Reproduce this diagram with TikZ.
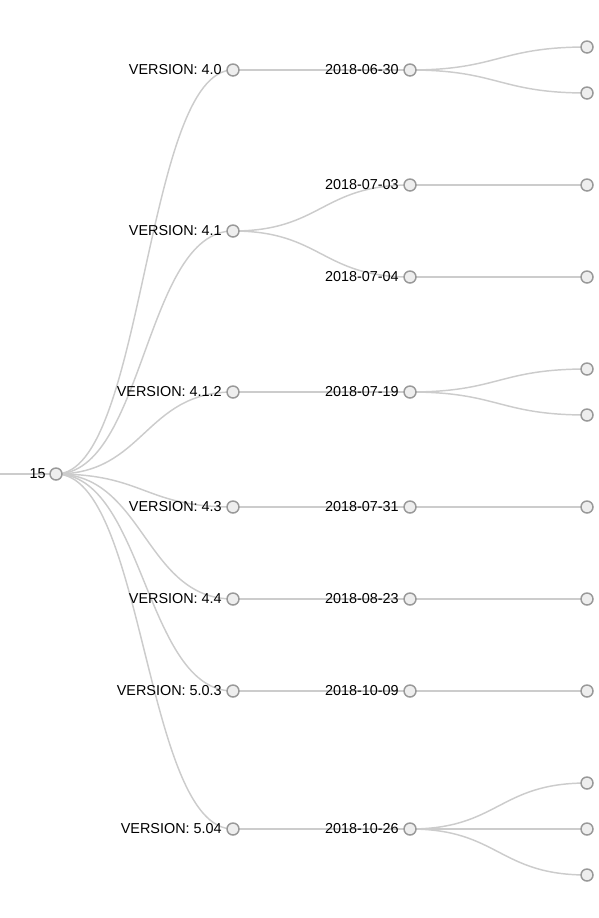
\documentclass[tikz,border=0pt]{standalone}
\usepackage{fontspec}
\setmainfont{Liberation Sans}
\usetikzlibrary{backgrounds}
\definecolor{linkc}{HTML}{CCCCCC}
\definecolor{nodefill}{HTML}{EEEEEE}
\definecolor{nodedraw}{HTML}{999999}
\tikzset{
  dot/.style={circle,draw=nodedraw,fill=nodefill,line width=1.1pt,minimum size=9pt,inner sep=0pt},
  lbl/.style={anchor=east,inner sep=0pt,font=\fontsize{10.8}{12}\selectfont,text=black},
  link/.style={draw=linkc,line width=1.1pt},
}
\begin{document}
\begin{tikzpicture}[x=0.75pt,y=-0.75pt]
\useasboundingbox (0,0) rectangle (599,918);
% root
\node[dot] (r) at (56,474) {};
\coordinate (p) at (0,474);
% versions
\node[dot] (v1) at (233,70) {};
\node[dot] (v2) at (233,231) {};
\node[dot] (v3) at (233,392) {};
\node[dot] (v4) at (233,507) {};
\node[dot] (v5) at (233,599) {};
\node[dot] (v6) at (233,691) {};
\node[dot] (v7) at (233,829) {};
% dates
\node[dot] (d1) at (410,70) {};
\node[dot] (d2) at (410,185) {};
\node[dot] (d3) at (410,277) {};
\node[dot] (d4) at (410,392) {};
\node[dot] (d5) at (410,507) {};
\node[dot] (d6) at (410,599) {};
\node[dot] (d7) at (410,691) {};
\node[dot] (d8) at (410,829) {};
% leaves
\node[dot] (l1) at (587,47) {};
\node[dot] (l2) at (587,93) {};
\node[dot] (l3) at (587,185) {};
\node[dot] (l4) at (587,277) {};
\node[dot] (l5) at (587,369) {};
\node[dot] (l6) at (587,415) {};
\node[dot] (l7) at (587,507) {};
\node[dot] (l8) at (587,599) {};
\node[dot] (l9) at (587,691) {};
\node[dot] (l10) at (587,783) {};
\node[dot] (l11) at (587,829) {};
\node[dot] (l12) at (587,875) {};
% labels
\node[lbl] (tr) at (46,474) {15};
\node[lbl] (t1) at (222,70) {VERSION: 4.0};
\node[lbl] (t2) at (222,231) {VERSION: 4.1};
\node[lbl] (t3) at (222,392) {VERSION: 4.1.2};
\node[lbl] (t4) at (222,507) {VERSION: 4.3};
\node[lbl] (t5) at (222,599) {VERSION: 4.4};
\node[lbl] (t6) at (222,691) {VERSION: 5.0.3};
\node[lbl] (t7) at (222,829) {VERSION: 5.04};
\node[lbl] (s1) at (399,70) {2018-06-30};
\node[lbl] (s2) at (399,185) {2018-07-03};
\node[lbl] (s3) at (399,277) {2018-07-04};
\node[lbl] (s4) at (399,392) {2018-07-19};
\node[lbl] (s5) at (399,507) {2018-07-31};
\node[lbl] (s6) at (399,599) {2018-08-23};
\node[lbl] (s7) at (399,691) {2018-10-09};
\node[lbl] (s8) at (399,829) {2018-10-26};
\begin{pgfonlayer}{background}
\draw[link] (p) -- (r.center);
\foreach \v in {v1,v2,v3,v4,v5,v6,v7}
  \draw[link] (r.center) .. controls +(88.5,0) and +(-88.5,0) .. (\v.center);
\foreach \a/\b in {v1/d1,v2/d2,v2/d3,v3/d4,v4/d5,v5/d6,v6/d7,v7/d8}
  \draw[link] (\a.center) .. controls +(88.5,0) and +(-88.5,0) .. (\b.center);
\foreach \a/\b in {d1/l1,d1/l2,d2/l3,d3/l4,d4/l5,d4/l6,d5/l7,d6/l8,d7/l9,d8/l10,d8/l11,d8/l12}
  \draw[link] (\a.center) .. controls +(88.5,0) and +(-88.5,0) .. (\b.center);
\end{pgfonlayer}
\end{tikzpicture}
\end{document}
